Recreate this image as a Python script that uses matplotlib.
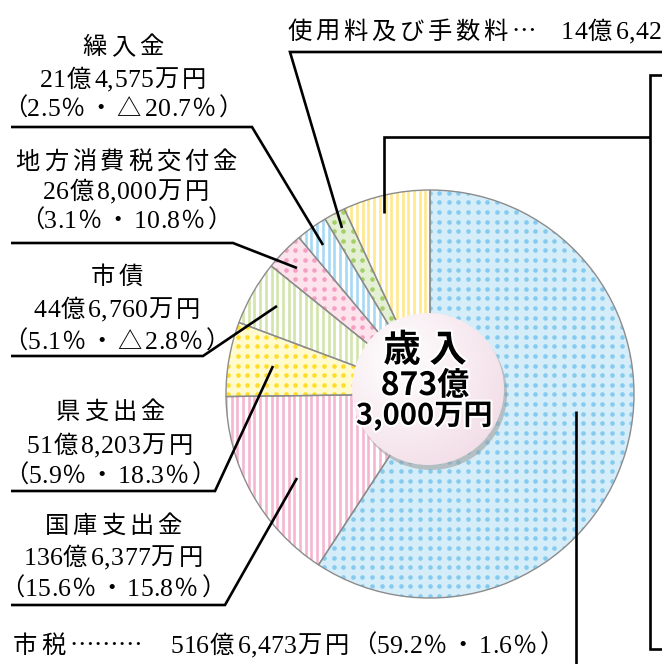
import numpy as np
import matplotlib
matplotlib.use('Agg')
import matplotlib.pyplot as plt
from matplotlib.patches import Circle, Wedge
import matplotlib.patheffects as pe
from matplotlib import font_manager as fm
from matplotlib.ft2font import FT2Font
try:
    from matplotlib.ft2font import LoadFlags
    NOHINT = LoadFlags.NO_HINTING
except ImportError:
    from matplotlib.ft2font import LOAD_NO_HINTING as NOHINT

# ---- data ----
categories = ['市税', '国庫支出金', '県支出金', '市債', '地方消費税交付金',
              '繰入金', '使用料及び手数料', 'その他']
shares = [59.2, 15.6, 5.9, 5.1, 3.1, 2.5, 1.7, 6.9]
amounts = ['516億6,473万円', '136億6,377万円', '51億8,203万円', '44億6,760万円',
           '26億8,000万円', '21億4,575万円', '14億6,42', '']
changes = ['1.6％', '15.8％', '18.3％', '△2.8％', '10.8％', '△20.7％', '', '']
total_lines = ['歳 入', '873億', '3,000万円']

# ---- styles ----
W, H = 662, 664
LAT_NAME, CJK_NAME = 'Liberation Serif', 'Noto Sans CJK JP'
SANS = ['Noto Sans CJK JP', 'DejaVu Sans']
LAT_PATH = fm.findfont(fm.FontProperties(family=LAT_NAME))
CJK_PATH = fm.findfont(fm.FontProperties(family=CJK_NAME))
_fonts = {}


def _ft(path):
    if path not in _fonts:
        _fonts[path] = FT2Font(path)
    return _fonts[path]


def pick(ch):
    if ch not in '…' and _ft(LAT_PATH).get_char_index(ord(ch)):
        return LAT_PATH, LAT_NAME
    return CJK_PATH, CJK_NAME


def advance(ch, fs):
    path, _ = pick(ch)
    f = _ft(path)
    f.set_size(fs, 100)
    g = f.load_char(ord(ch), flags=NOHINT)
    return g.linearHoriAdvance / 65536


styles = [
    ('dot', '#d5edf9', '#86cbef'),
    ('stripe', '#ffffff', '#f6b6d0'),
    ('dot', '#fffbcc', '#ffde2a'),
    ('stripe', '#ffffff', '#d2e5ac'),
    ('dot', '#fde3ec', '#f5a0c3'),
    ('stripe', '#ffffff', '#a8d9f3'),
    ('dot', '#e4f0d3', '#a6cf6a'),
    ('stripe', '#ffffff', '#ffe98c'),
]

fig = plt.figure(figsize=(W / 100, H / 100), dpi=100)
ax = fig.add_axes([0, 0, 1, 1])


def Y(y):
    return H - y


FS_CJK, FS_LAT = 17.5, 18.5
TRACK = {'（': 0.0, '）': 0.0, '…': 0.0}


def draw_line(s, x, yc, tc=3.8, tl=0.3, ha='center'):
    items = []
    for ch in s:
        name = pick(ch)[1]
        fs = FS_LAT if name == LAT_NAME else FS_CJK
        wide = ord(ch) >= 0x2000
        extra = TRACK.get(ch, tc if wide else tl)
        items.append((ch, name, fs, advance(ch, fs) + extra, extra))
    total = sum(it[3] for it in items) - items[-1][4]
    pos = x - total / 2 if ha == 'center' else x
    for ch, name, fs, a, _ in items:
        ax.text(pos, Y(yc + 9), ch, ha='left', va='baseline', fontsize=fs,
                family=name, zorder=8)
        pos += a


cx, cy, R = 430, Y(394), 204
wedges, _ = ax.pie(shares, startangle=90, counterclock=False,
                   center=(cx, cy), radius=R,
                   wedgeprops=dict(linewidth=0))
ax.set_xlim(0, W)
ax.set_ylim(0, H)
ax.set_aspect('auto')
ax.axis('off')

for w, (kind, bg, fg) in zip(wedges, styles):
    w.set_facecolor(bg)
    if kind == 'dot':
        xs = np.arange(cx - R + 2, cx + R, 9.6)
        ys = np.arange(cy - R + 2, cy + R, 9.6)
        gx, gy = np.meshgrid(xs, ys)
        sc = ax.scatter(gx.ravel(), gy.ravel(), s=11, c=fg, linewidths=0, zorder=2)
        sc.set_clip_path(w)
    else:
        lc = ax.vlines(np.arange(cx - R, cx + R, 5.7), cy - R, cy + R,
                       colors=fg, linewidth=1.9, zorder=2)
        lc.set_clip_path(w)
    ax.add_patch(Wedge(w.center, w.r, w.theta1, w.theta2, fill=False,
                       ec='#8c8c8c', lw=1.0, zorder=3))

# ---- leader lines ----
LW = 1.9
leaders = [
    [(662, 52), (290, 52), (342, 228)],
    [(11, 127), (252, 127), (323, 245)],
    [(11, 243), (233, 243), (297, 268)],
    [(11, 356), (203, 356), (277, 306)],
    [(11, 491), (215, 491), (273, 366)],
    [(11, 605), (225, 605), (297, 478)],
    [(576, 411), (576, 664)],
    [(384, 213), (384, 137), (650, 137)],
    [(662, 75), (650, 75), (650, 649), (662, 649)],
]
for pts in leaders:
    xs = [p[0] for p in pts]
    ys = [Y(p[1]) for p in pts]
    ax.plot(xs, ys, color='black', lw=LW, zorder=5, solid_joinstyle='miter',
            solid_capstyle='butt')

# ---- center circle ----
ccx, ccy, cr = 428, Y(389), 76
ax.add_patch(Circle((ccx + 3, ccy - 5), cr, color='#9a9a9a', alpha=0.55, zorder=6, lw=0))
circ = Circle((ccx, ccy), cr, fc='none', ec='none', zorder=7)
ax.add_patch(circ)
gy_, gx_ = np.mgrid[-1:1:200j, -1:1:200j]
d = np.sqrt((gx_ + 0.35) ** 2 + (gy_ + 0.35) ** 2) / 1.6
c0 = np.array([1.0, 1.0, 1.0])
c1 = np.array([0xf2, 0xdc, 0xe6]) / 255
img = c0 + (c1 - c0) * np.clip(d, 0, 1)[..., None]
im = ax.imshow(img, extent=[ccx - cr, ccx + cr, ccy - cr, ccy + cr],
               origin='upper', zorder=7, interpolation='bilinear')
im.set_clip_path(circ)
ax.set_xlim(0, W)
ax.set_ylim(0, H)
ax.set_aspect('auto')

glow = [pe.withStroke(linewidth=3, foreground='white')]
ax.text(425, Y(350), total_lines[0], ha='center', va='center', fontsize=27,
        fontweight='bold', family=SANS, zorder=8, path_effects=glow)
ax.text(425, Y(386), total_lines[1], ha='center', va='center', fontsize=23,
        fontweight='bold', family=SANS, zorder=8, path_effects=glow)
ax.text(424, Y(416), total_lines[2], ha='center', va='center', fontsize=21,
        fontweight='bold', family=SANS, zorder=8, path_effects=glow)

# ---- labels ----


def block(x, ys, idx):
    lines = [categories[idx], amounts[idx],
             '（' + f'{shares[idx]}％' + '・' + changes[idx] + '）']
    for yy, t in zip(ys, lines):
        draw_line(t, x, yy)


block(123, [45, 78, 107], 5)
block(126, [160, 190, 219], 4)
block(117, [275, 308, 340], 3)
block(110, [410, 444, 474], 2)
block(113, [524, 556, 587], 1)

draw_line(categories[6] + '…', 287, 30, ha='left')
draw_line(amounts[6], 561, 30, ha='left')
draw_line(categories[0] + '………', 13, 644, ha='left')
draw_line(amounts[0], 170, 644, ha='left')
draw_line('（' + f'{shares[0]}％' + '・' + changes[0] + '）', 352, 644, ha='left')

fig.savefig('out.png', dpi=100)
